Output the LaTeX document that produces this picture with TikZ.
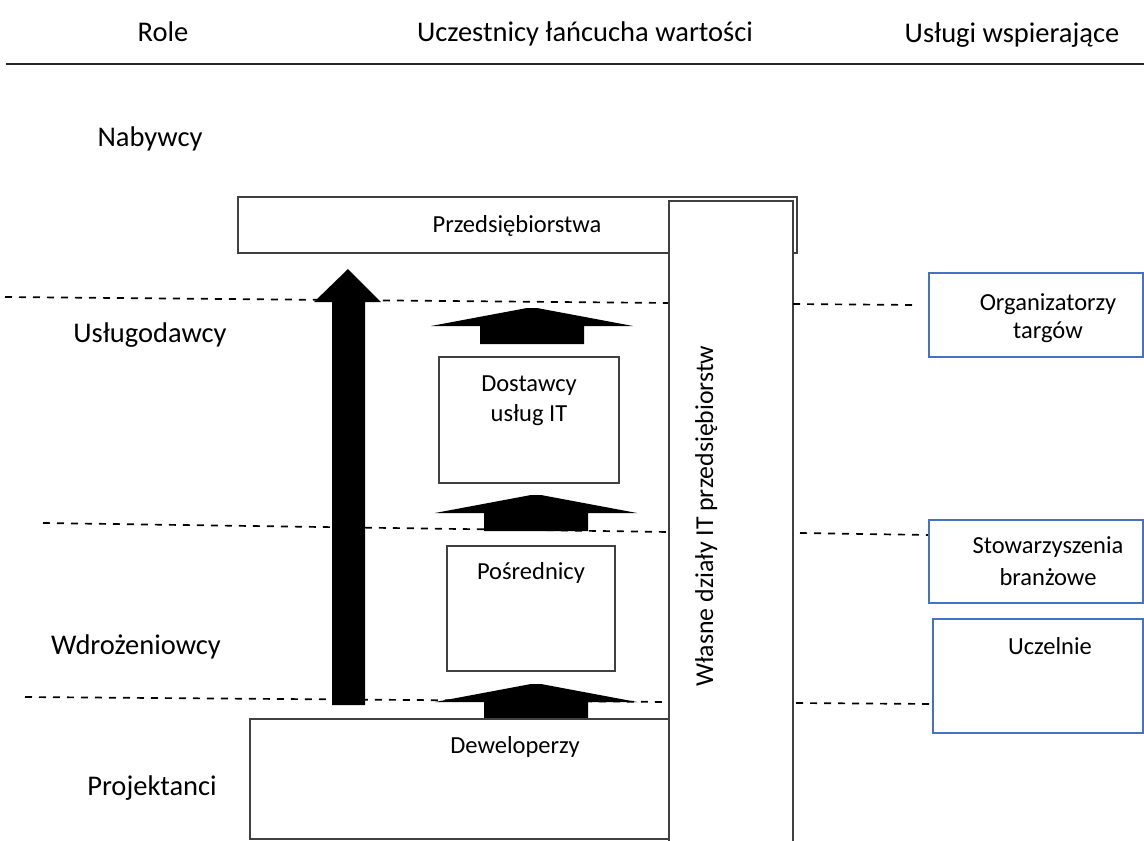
\documentclass[tikz,border=0pt]{standalone}
\usepackage{fontspec}
\setmainfont{Carlito}
\definecolor{bluec}{RGB}{68,114,196}
\definecolor{edgec}{RGB}{64,64,64}
\begin{document}
\begin{tikzpicture}[x=1pt,y=-1pt,
  boxline/.style={draw=edgec, line width=1.3pt},
  box/.style={boxline, fill=white, inner sep=0pt, outer sep=0pt, anchor=north west},
  bluebox/.style={draw=bluec, line width=2pt, fill=white, inner sep=0pt, outer sep=0pt, anchor=north west},
  sepline/.style={draw=black, line width=1.7pt, dash pattern=on 7pt off 7pt},
  hdr/.style={anchor=base, inner sep=0pt, font=\fontsize{28.5}{34}\selectfont},
  lbl/.style={anchor=base, inner sep=0pt, font=\fontsize{28.5}{34}\selectfont},
  txt/.style={anchor=base, inner sep=0pt, font=\fontsize{24.5}{29}\selectfont},
  flatarrow/.pic={\fill[black] (-101,18) -- (-5,0) -- (5,0) -- (101,18) -- (52,18) -- (52,36) -- (-52,36) -- (-52,18) -- cycle;}
]
\useasboundingbox (0,0) rectangle (1144,841);
\fill[white] (0,0) rectangle (1144,841);

% header
\node[hdr] (role) at (163,41) {Role};
\node[hdr] (ucz) at (585,41) {Uczestnicy łańcucha wartości};
\node[hdr] (usl) at (1012,42) {Usługi wspierające};
\coordinate (hl1) at (6,64);
\coordinate (hl2) at (1144,64);
\draw[line width=1.6pt, black!85] (hl1) -- (hl2);

% role labels
\node[lbl] (naby) at (150,146) {Nabywcy};
\node[lbl] (uslug) at (150,342) {Usługodawcy};
\node[lbl] (wdr) at (136,654) {Wdrożeniowcy};
\node[lbl] (proj) at (152,795) {Projektanci};

% dashed separators (left parts)
\coordinate (d1a) at (5,297);   \coordinate (d1b) at (669,303);
\coordinate (d2a) at (43,523);  \coordinate (d2b) at (669,532);
\coordinate (d3a) at (25,697);  \coordinate (d3b) at (669,702);
\draw[sepline] (d1a) -- (d1b);
\draw[sepline] (d2a) -- (d2b);
\draw[sepline] (d3a) -- (d3b);

% big arrow
\fill[black] (332,705) -- (332,302) -- (314,302) -- (348,269) -- (381,302) -- (365,302) -- (365,705) -- cycle;

% block arrows
\pic at (532,308) {flatarrow};
\pic at (536,495) {flatarrow};
\pic at (536,684) {flatarrow};

% Przedsiebiorstwa
\node[box, minimum width=559pt, minimum height=56pt] (przed) at (238,197) {};
\node[txt] (przedT) at (517,232) {Przedsiębiorstwa};

% vertical box (open at bottom)
\node[fill=white, inner sep=0pt, outer sep=0pt, anchor=north west, minimum width=124pt, minimum height=640pt] (vbox) at (669,201) {};
\draw[boxline] (vbox.south west) -- (vbox.north west) -- (vbox.north east) -- (vbox.south east);
\node[txt, rotate=90, font=\fontsize{25.8}{30}\selectfont] (vboxT) at (713,516) {Własne działy IT przedsiębiorstw};

% inner boxes
\node[box, minimum width=180pt, minimum height=126pt] (dost) at (439,357) {};
\node[txt] (dostT1) at (529,391) {Dostawcy};
\node[txt] (dostT2) at (529,421) {usług IT};

\node[box, minimum width=168pt, minimum height=125pt] (posr) at (447,546) {};
\node[txt] (posrT) at (531,579) {Pośrednicy};

\node[box, minimum width=419pt, minimum height=120pt] (dewe) at (250,719) {};
\node[txt] (deweT) at (515,753) {Deweloperzy};

% dashed separators (right parts)
\coordinate (d1c) at (793,304); \coordinate (d1d) at (916,305);
\coordinate (d2c) at (800,533); \coordinate (d2d) at (928,535);
\coordinate (d3c) at (796,703); \coordinate (d3d) at (933,704);
\draw[sepline] (d1c) -- (d1d);
\draw[sepline] (d2c) -- (d2d);
\draw[sepline] (d3c) -- (d3d);

% supporting services
\node[bluebox, minimum width=214pt, minimum height=84pt] (org) at (929,273) {};
\node[txt] (orgT1) at (1048,310) {Organizatorzy};
\node[txt] (orgT2) at (1048,338) {targów};

\node[bluebox, minimum width=214pt, minimum height=83pt] (stow) at (929,520) {};
\node[txt] (stowT1) at (1048,553) {Stowarzyszenia};
\node[txt] (stowT2) at (1048,585) {branżowe};

\node[bluebox, minimum width=210pt, minimum height=114pt] (ucze) at (933,619) {};
\node[txt] (uczeT) at (1050,654) {Uczelnie};
\end{tikzpicture}
\end{document}
